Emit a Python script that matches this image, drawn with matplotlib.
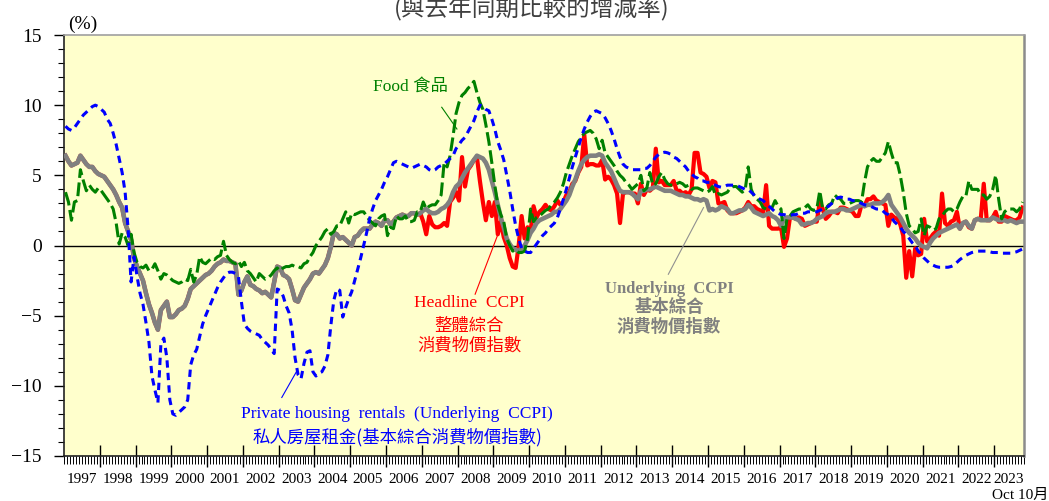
"""
CCPI yoy chart: headline / underlying / food / private housing rentals.
Monthly, Jan 1997 - Oct 2023.
"""

import matplotlib
matplotlib.use('Agg')
import matplotlib.pyplot as plt
from matplotlib.ticker import FixedLocator, MultipleLocator

SERIF = ['Liberation Serif', 'Noto Sans CJK TC']
CJK = ['Noto Sans CJK TC', 'DejaVu Sans']

years = list(range(1997, 2024))

# underlying CCPI (grey), % yoy, one row per year
underlying = [
    6.4, 6.0, 5.7, 5.8, 5.9, 6.4, 6.1, 5.8, 5.6, 5.6, 5.3, 5.1,          # 1997
    5.0, 4.9, 4.6, 4.3, 4.0, 3.6, 3.1, 2.7, 1.6, 1.0, 0.4, -0.9,         # 1998
    -1.5, -2.0, -2.5, -3.4, -4.2, -4.8, -5.5, -6.0, -4.6, -4.3, -4.0, -5.1,
    -5.1, -4.9, -4.6, -4.5, -4.3, -3.8, -3.1, -2.9, -2.7, -2.5, -2.3, -2.1,
    -2.0, -1.8, -1.5, -1.3, -1.2, -1.0, -1.1, -1.1, -1.2, -1.3, -3.5, -3.2,
    -2.6, -2.2, -2.8, -2.9, -3.1, -3.2, -3.4, -3.3, -3.5, -3.7, -2.6, -1.5,
    -1.6, -2.1, -2.2, -2.4, -3.1, -3.9, -4.0, -3.5, -3.0, -2.7, -2.4, -2.0,
    -1.9, -2.0, -1.7, -1.4, -0.9, -0.1, 0.9, 0.8, 0.5, 0.6, 0.4, 0.2,     # 2004
    0.0, 0.6, 0.7, 1.0, 1.2, 1.2, 1.2, 1.5, 1.7, 1.6, 1.4, 1.8,
    1.8, 1.5, 1.7, 2.0, 2.1, 2.2, 2.1, 2.1, 2.3, 2.3, 2.2, 2.3,
    2.5, 2.6, 2.4, 2.3, 2.3, 2.4, 2.6, 2.7, 2.9, 3.2, 3.8, 4.2,           # 2007
    4.4, 4.8, 5.2, 5.5, 5.8, 6.1, 6.4, 6.3, 6.2, 5.9, 5.4, 4.6,
    3.8, 2.9, 2.0, 1.3, 0.5, 0.1, -0.2, -0.3, -0.4, -0.2, 0.0, 0.4,
    0.9, 1.2, 1.6, 1.8, 1.9, 2.0, 2.1, 2.2, 2.4, 2.4, 2.6, 2.9,           # 2010
    3.2, 3.6, 4.2, 4.7, 5.3, 5.8, 6.1, 6.3, 6.4, 6.4, 6.4, 6.5,
    6.4, 5.9, 5.6, 5.3, 4.8, 4.3, 3.9, 3.8, 3.8, 3.8, 3.7, 3.5,
    3.3, 3.9, 3.9, 4.0, 4.0, 4.1, 4.2, 4.1, 4.0, 3.9, 3.9, 3.9,
    3.8, 3.7, 3.6, 3.6, 3.5, 3.5, 3.4, 3.3, 3.3, 3.2, 3.3, 3.2,
    2.5, 2.6, 2.5, 2.6, 2.8, 2.7, 2.6, 2.3, 2.3, 2.4, 2.5, 2.5,           # 2015
    2.6, 2.9, 2.7, 2.4, 2.3, 2.2, 2.1, 2.2, 2.3, 2.1, 2.0, 1.8,
    1.4, 1.9, 2.0, 2.0, 2.0, 1.9, 1.8, 1.5, 1.5, 1.6, 1.6, 1.7,
    1.9, 2.0, 2.1, 2.3, 2.4, 2.4, 2.4, 2.5, 2.6, 2.6, 2.5, 2.5,
    2.6, 2.7, 2.8, 2.9, 2.8, 2.9, 2.9, 3.0, 3.0, 3.0, 3.1, 3.3,
    3.6, 2.9, 2.6, 2.3, 2.0, 1.6, 1.2, 0.9, 0.7, 0.5, 0.2, 0.0,           # 2020
    -0.1, -0.2, 0.2, 0.5, 0.7, 0.9, 1.0, 1.1, 1.2, 1.3, 1.4, 1.5,
    1.2, 1.6, 1.7, 1.4, 1.2, 1.8, 1.9, 1.8, 1.8, 1.8, 1.8, 2.0,
    1.9, 1.8, 1.8, 1.8, 1.7, 1.8, 1.7, 1.6, 1.7, 1.7,                     # 2023 (to Oct)
]

# headline CCPI (red), shown separately from 2007 on
headline_from_2007 = [
    1.7, 0.8, 2.1, 1.5, 1.3, 1.3, 1.4, 1.6, 1.4, 3.1, 3.4, 3.8,           # 2007
    3.2, 6.3, 4.2, 5.4, 5.7, 6.1, 6.3, 4.6, 3.1, 1.8, 3.1, 2.1,
    3.1, 0.8, 1.7, 0.6, 0.0, -0.9, -1.5, -1.6, 0.0, 2.1, 0.5, 1.3,
    1.0, 2.8, 2.0, 2.4, 2.6, 2.9, 2.6, 2.5, 2.8, 3.2, 2.9, 3.1,           # 2010
    3.6, 3.8, 4.4, 4.6, 5.2, 5.6, 7.9, 5.7, 5.8, 5.8, 5.7, 5.7,
    6.1, 4.7, 4.9, 4.7, 4.3, 3.7, 1.6, 3.7, 3.8, 3.8, 3.7, 3.7,
    3.0, 4.4, 3.6, 4.0, 3.9, 4.1, 6.9, 4.5, 4.6, 4.3, 4.3, 4.3,
    4.6, 3.9, 3.9, 3.7, 3.8, 3.6, 4.0, 6.6, 6.6, 5.2, 5.1, 4.9,
    4.1, 4.6, 4.5, 3.0, 3.0, 3.1, 2.5, 2.3, 2.3, 2.3, 2.4, 2.5,           # 2015
    2.7, 3.1, 2.8, 2.8, 2.6, 2.5, 2.3, 4.3, 1.4, 1.2, 1.2, 1.2,
    1.3, -0.1, 0.5, 2.0, 2.0, 1.9, 2.0, 1.9, 1.4, 1.5, 1.6, 1.7,
    1.7, 3.1, 2.6, 1.9, 2.1, 2.4, 2.4, 2.3, 2.7, 2.7, 2.6, 2.5,
    2.4, 2.1, 2.1, 2.9, 2.8, 3.3, 3.3, 3.5, 3.2, 3.1, 3.0, 2.9,
    1.4, 2.2, 2.0, 1.9, 1.5, 0.7, -2.3, -0.4, -2.2, -0.2, -0.7, -0.6,     # 2020
    1.9, 0.3, 0.5, 0.8, 1.0, 0.7, 3.7, 1.6, 1.4, 1.7, 1.8, 2.4,
    1.2, 1.6, 1.7, 1.3, 1.2, 1.8, 1.9, 1.9, 4.4, 1.8, 1.8, 2.0,
    2.4, 1.7, 1.7, 2.1, 2.0, 1.9, 1.8, 1.8, 2.0, 2.7,                     # 2023
]
# before 2007 the headline coincides with the grey line
headline = underlying[:120] + headline_from_2007

# food (green dashed)
food = [
    3.8, 3.1, 1.8, 3.1, 3.2, 5.4, 4.6, 3.9, 4.3, 4.0, 3.8, 4.1,           # 1997
    3.9, 3.6, 3.3, 3.0, 2.6, 1.6, 0.1, 0.9, 0.6, 0.0, 0.8, -0.5,
    -1.2, -1.5, -1.6, -1.4, -1.8, -1.7, -1.3, -1.8, -2.4, -2.0, -2.1, -2.3,
    -2.5, -2.6, -2.7, -2.6, -2.4, -2.5, -1.7, -2.6, -2.1, -0.8, -1.2, -1.3,
    -1.1, -0.9, -1.0, -0.8, -0.7, 0.3, -0.7, -1.0, -1.2, -1.3, -1.1, -1.5,
    -1.2, -1.8, -2.0, -2.3, -2.6, -2.0, -2.2, -2.4, -2.3, -2.1, -1.8, -1.6,
    -1.8, -1.6, -1.5, -1.5, -1.4, -1.5, -1.5, -1.6, -1.3, -1.2, -0.8, -0.5,
    0.0, 0.3, 0.6, 1.0, 1.2, 0.8, 1.0, 1.4, 1.4, 1.9, 2.4, 1.6,           # 2004
    2.3, 2.2, 2.3, 2.4, 2.4, 2.1, 1.8, 1.6, 1.4, 1.9, 2.1, 2.2,
    0.7, 1.3, 1.2, 2.1, 1.9, 1.9, 2.1, 1.7, 1.7, 1.8, 2.4, 2.4,
    3.1, 2.6, 2.8, 2.9, 2.9, 3.2, 3.6, 5.9, 5.6, 6.4, 7.8, 9.4,           # 2007
    10.2, 10.7, 10.9, 11.2, 11.4, 11.7, 10.9, 10.2, 9.7, 8.6, 7.4, 5.9,
    4.3, 2.9, 2.2, 1.7, 0.5, 0.0, -0.4, -0.3, -0.5, -0.5, -0.4, 0.5,
    2.6, 1.7, 2.0, 2.1, 2.3, 2.5, 2.6, 2.9, 3.1, 3.4, 3.8, 4.4,           # 2010
    5.2, 5.8, 6.4, 6.9, 7.4, 7.7, 8.0, 8.1, 8.2, 8.0, 7.6, 6.9,
    7.5, 6.6, 6.3, 6.0, 5.7, 5.3, 5.0, 4.8, 4.5, 4.3, 4.0, 4.2,
    4.4, 5.0, 3.9, 4.1, 5.2, 4.3, 4.4, 4.9, 5.2, 4.7, 4.4, 4.3,
    4.3, 4.4, 4.5, 4.4, 4.2, 4.3, 4.0, 4.1, 4.1, 4.0, 3.9, 3.8,
    3.9, 4.2, 3.6, 3.7, 3.6, 3.7, 3.8, 4.1, 4.2, 4.2, 4.0, 3.8,           # 2015
    4.0, 5.6, 4.0, 3.5, 3.3, 3.1, 2.7, 2.6, 2.6, 2.7, 3.2, 2.8,
    2.6, 0.5, 1.9, 2.1, 2.4, 2.5, 2.6, 2.6, 2.7, 2.9, 2.6, 2.5,
    2.6, 3.9, 2.6, 2.6, 2.9, 3.0, 3.6, 3.4, 3.3, 3.0, 3.0, 3.0,
    3.1, 3.2, 3.2, 3.1, 4.5, 5.6, 6.0, 6.2, 6.0, 6.0, 6.3, 6.6,
    7.4, 6.6, 5.9, 5.9, 5.0, 3.8, 2.3, 1.4, 1.2, 0.9, 1.0, 1.9,           # 2020
    0.7, 1.4, 1.3, 1.1, 1.2, 1.9, 2.1, 2.4, 2.6, 2.6, 2.4, 2.6,
    3.1, 3.5, 3.5, 4.6, 4.0, 4.0, 4.0, 3.6, 3.6, 3.3, 3.5, 4.0,
    5.0, 3.3, 1.9, 2.4, 2.6, 2.6, 2.6, 2.4, 2.6, 3.1,                     # 2023
]

# private housing rentals (blue dotted)
rent = [
    8.5, 8.3, 8.2, 8.4, 8.7, 9.0, 9.3, 9.5, 9.7, 9.9, 10.0, 9.9,          # 1997
    9.7, 9.5, 9.0, 8.7, 8.0, 7.2, 6.2, 5.2, 3.8, 1.2, -2.6, -0.8,
    -2.2, -3.4, -4.2, -5.5, -6.9, -9.3, -10.3, -11.2, -7.0, -6.6, -8.0, -11.0,
    -12.0, -12.1, -11.9, -11.7, -11.5, -11.0, -8.5, -7.8, -7.4, -6.5, -5.6, -5.0,
    -4.5, -4.0, -3.5, -3.0, -2.6, -2.3, -2.0, -1.9, -1.9, -2.0, -2.2, -4.0,
    -5.6, -5.9, -6.1, -6.2, -6.3, -6.4, -6.7, -6.9, -7.1, -7.4, -7.7, -3.1,
    -3.2, -3.6, -4.3, -4.8, -6.0, -8.0, -9.2, -9.5, -8.4, -7.6, -7.5, -9.0,
    -9.3, -9.1, -9.0, -8.6, -7.8, -5.7, -3.9, -3.1, -3.2, -5.1, -4.4, -3.8,  # 2004
    -3.3, -2.5, -1.7, -0.9, 0.0, 0.9, 1.9, 2.6, 3.2, 3.6, 4.0, 4.5,
    4.9, 5.4, 5.9, 6.0, 5.9, 5.8, 5.7, 5.6, 5.5, 5.6, 5.7, 5.8,
    5.7, 5.6, 5.4, 5.3, 5.4, 5.6, 5.7, 5.8, 6.0, 6.2, 6.4, 6.9,           # 2007
    7.2, 7.5, 7.7, 8.1, 8.5, 8.9, 9.5, 10.0, 9.9, 9.7, 9.6, 9.0,
    8.3, 7.4, 6.8, 6.1, 5.0, 3.9, 2.6, 1.4, 0.5, -0.2, -0.4, -0.5,
    -0.5, -0.2, 0.1, 0.4, 0.7, 0.9, 1.2, 1.4, 1.6, 2.0, 2.6, 3.3,         # 2010
    4.0, 4.8, 5.6, 6.3, 7.0, 7.7, 8.3, 8.8, 9.2, 9.5, 9.6, 9.5,
    9.4, 9.1, 8.7, 8.2, 7.6, 6.9, 6.3, 5.8, 5.6, 5.5, 5.4, 5.4,
    5.4, 5.4, 5.5, 5.5, 5.7, 6.0, 6.3, 6.5, 6.6, 6.65, 6.6, 6.5,
    6.3, 6.2, 6.0, 5.8, 5.6, 5.3, 5.1, 4.9, 4.8, 4.6, 4.6, 4.5,
    4.5, 4.4, 4.3, 4.2, 4.15, 4.2, 4.3, 4.3, 4.3, 4.3, 4.2, 4.1,          # 2015
    4.0, 4.0, 3.8, 3.6, 3.4, 3.3, 3.2, 3.0, 2.8, 2.6, 2.4, 2.3,
    2.2, 2.2, 2.15, 2.15, 2.2, 2.2, 2.3, 2.3, 2.3, 2.4, 2.4, 2.4,
    2.4, 2.5, 2.6, 2.7, 2.8, 3.0, 3.2, 3.4, 3.45, 3.4, 3.3, 3.3,
    3.2, 3.2, 3.1, 3.0, 2.9, 2.85, 2.8, 2.7, 2.6, 2.6, 2.5, 2.3,
    2.2, 2.0, 1.7, 1.5, 1.3, 1.0, 0.8, 0.5, 0.2, 0.0, -0.4, -0.6,         # 2020
    -0.9, -1.1, -1.3, -1.4, -1.5, -1.55, -1.55, -1.55, -1.55, -1.5, -1.4, -1.2,
    -1.0, -0.85, -0.7, -0.6, -0.5, -0.45, -0.4, -0.4, -0.4, -0.4, -0.45, -0.5,
    -0.5, -0.5, -0.55, -0.55, -0.55, -0.55, -0.5, -0.45, -0.35, -0.25,    # 2023
]

n = len(underlying)
months = list(range(n))

# ── figure ────────────────────────────────────────────────────────────────
fig = plt.figure(figsize=(10.49, 5.01), dpi=100)
ax = fig.add_axes([64 / 1049, 45 / 501, 960 / 1049, 421 / 501])
ax.set_facecolor('#FFFFCC')

ax.axhline(0, color='black', lw=1.0, zorder=1)

ax.plot(months, headline, color='#FF0000', lw=3.0, zorder=2)
ax.plot(months, underlying, color='#808080', lw=3.3, zorder=3)
ax.plot(months, food, color='#008000', lw=2.2, ls=(0, (4.5, 1.5)), zorder=4)
ax.plot(months, rent, color='#0000FF', lw=2.2, ls=(0, (2.4, 1.7)), zorder=5)

ax.set_xlim(-0.5, n - 0.5)
ax.set_ylim(-15, 15)

# y axis
ax.yaxis.set_major_locator(MultipleLocator(5))
ax.yaxis.set_minor_locator(MultipleLocator(1))
ax.tick_params(axis='y', which='major', direction='out', length=7, width=1.0,
               pad=9, labelsize=14)
ax.tick_params(axis='y', which='minor', direction='out', length=4, width=0.8)
for lab in ax.get_yticklabels():
    lab.set_family(SERIF)

# x axis: year boundaries + monthly comb, labels centred on each year
ax.xaxis.set_major_locator(FixedLocator([12 * k - 0.5 for k in range(1, len(years))]))
ax.xaxis.set_minor_locator(FixedLocator([k - 0.5 for k in range(n + 1)]))
ax.tick_params(axis='x', which='major', direction='inout', length=16, width=1.0,
               labelbottom=False)
ax.tick_params(axis='x', which='minor', direction='out', length=6, width=0.7)

centres = []
for k, y in enumerate(years):
    start = 12 * k - 0.5
    end = min(12 * (k + 1), n) - 0.5
    centres.append((start + end) / 2)
sec = ax.secondary_xaxis('bottom')
sec.set_xticks(centres, labels=[str(y) for y in years])
sec.tick_params(length=0, pad=12, labelsize=11)
sec.spines['bottom'].set_visible(False)
for lab in sec.get_xticklabels():
    lab.set_family(SERIF)

for side in ('left', 'bottom'):
    ax.spines[side].set_color('#222222')
    ax.spines[side].set_linewidth(1.2)
ax.spines['top'].set_color('#A0A0A0')
ax.spines['top'].set_linewidth(1.2)
ax.spines['right'].set_color('#8C8C8C')
ax.spines['right'].set_linewidth(1.8)

# ── labels ────────────────────────────────────────────────────────────────
ax.text(115.8, 11.3, 'Food 食品', color='#008000', fontsize=12.5,
        family=SERIF, ha='center', va='center')
ax.plot([126.2, 131.3], [9.85, 8.3], color='#008000', lw=0.8)

ax.text(135.4, -4.1, 'Headline  CCPI', color='#FF0000', fontsize=12.5,
        family=SERIF, ha='center', va='center')
ax.text(135.4, -5.7, '整體綜合', color='#FF0000', fontsize=12.5,
        family=CJK, ha='center', va='center')
ax.text(135.4, -7.1, '消費物價指數', color='#FF0000', fontsize=12.5,
        family=CJK, ha='center', va='center')
ax.plot([137.4, 144.8], [-3.47, 0.66], color='#FF0000', lw=0.8)

ax.text(202.5, -3.1, 'Underlying  CCPI', color='#808080', fontsize=12,
        family=SERIF, weight='bold', ha='center', va='center')
ax.text(202.5, -4.35, '基本綜合', color='#808080', fontsize=12.5,
        family=CJK, weight='bold', ha='center', va='center')
ax.text(202.5, -5.8, '消費物價指數', color='#808080', fontsize=12.5,
        family=CJK, weight='bold', ha='center', va='center')
ax.plot([202.2, 214.0], [-2.05, 2.7], color='#909090', lw=0.8)

ax.text(111.1, -12.0, 'Private housing  rentals  (Underlying  CCPI)',
        color='#0000FF', fontsize=12.5, family=SERIF, ha='center', va='center')
ax.text(111.4, -13.65, '私人房屋租金(基本綜合消費物價指數)',
        color='#0000FF', fontsize=12.5, family=CJK, ha='center', va='center')
ax.plot([72.55, 77.6], [-10.83, -8.94], color='#0000FF', lw=0.8)

fig.text(83 / 1049, 1 - 24 / 501, '(%)', fontsize=14, family=SERIF,
         ha='center', va='center')
fig.text(532 / 1049, 1 - 15 / 501, '(與去年同期比較的增減率)', fontsize=17,
         family=CJK, color='#404040', ha='center', va='baseline')
fig.text(1048 / 1049, 2 / 501, 'Oct 10月', fontsize=11, family=SERIF,
         ha='right', va='baseline')

fig.savefig('out.png', dpi=100)
